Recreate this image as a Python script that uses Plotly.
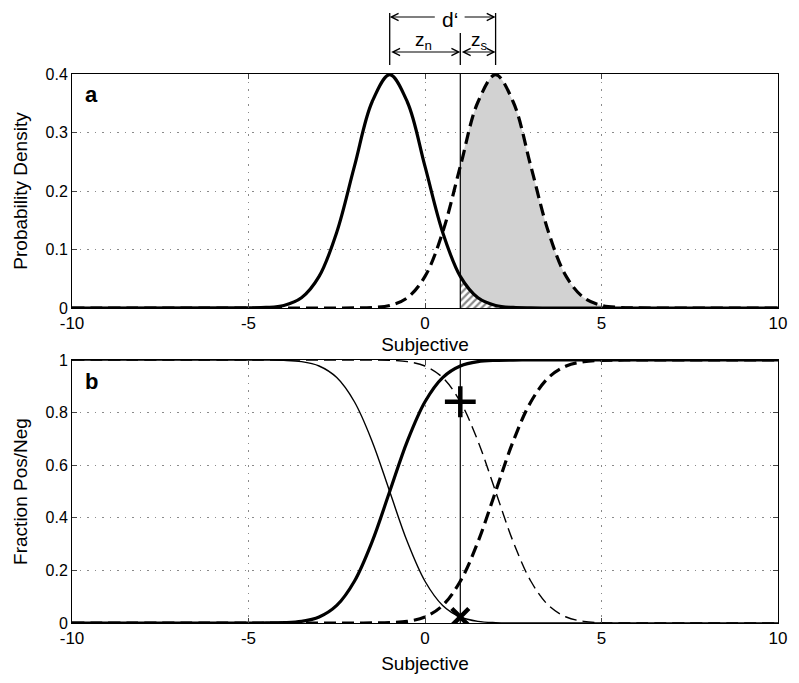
import plotly.graph_objects as go

# ---- data ----
x_vals = [-10, -5, -4.5, -4, -3.5, -3, -2.5, -2, -1.5, -1, -0.5, 0, 0.5, 1,
          1.5, 2, 2.5, 3, 3.5, 4, 4.5, 5, 5.5, 6, 10]
noise_pdf = [0, 0.0001, 0.0009, 0.0044, 0.0175, 0.054, 0.1295, 0.242, 0.3521, 0.3989,
             0.3521, 0.242, 0.1295, 0.054, 0.0175, 0.0044, 0.0009, 0.0001, 0, 0, 0, 0, 0, 0, 0]
signal_pdf = [0, 0, 0, 0, 0, 0, 0, 0.0001, 0.0009, 0.0044, 0.0175, 0.054, 0.1295, 0.242,
              0.3521, 0.3989, 0.3521, 0.242, 0.1295, 0.054, 0.0175, 0.0044, 0.0009, 0.0001, 0]
noise_cdf = [0, 0, 0.0002, 0.0013, 0.0062, 0.0228, 0.0668, 0.1587, 0.3085, 0.5, 0.6915,
             0.8413, 0.9332, 0.9772, 0.9938, 0.9987, 0.9998, 1, 1, 1, 1, 1, 1, 1, 1]
noise_surv = [1, 1, 0.9998, 0.9987, 0.9938, 0.9772, 0.9332, 0.8413, 0.6915, 0.5, 0.3085,
              0.1587, 0.0668, 0.0228, 0.0062, 0.0013, 0.0002, 0, 0, 0, 0, 0, 0, 0, 0]
signal_cdf = [0, 0, 0, 0, 0, 0, 0, 0, 0.0002, 0.0013, 0.0062, 0.0228, 0.0668, 0.1587,
              0.3085, 0.5, 0.6915, 0.8413, 0.9332, 0.9772, 0.9938, 0.9987, 0.9998, 1, 1]
signal_surv = [1, 1, 1, 1, 1, 1, 1, 1, 0.9998, 0.9987, 0.9938, 0.9772, 0.9332, 0.8413,
               0.6915, 0.5, 0.3085, 0.1587, 0.0668, 0.0228, 0.0062, 0.0013, 0.0002, 0, 0]
criterion = 1
noise_mean = -1
signal_mean = 2
hit_rate = 0.8413
false_alarm = 0.0228

x_ticks = [-10, -5, 0, 5, 10]
x_labels = ["-10", "-5", "0", "5", "10"]
y1_ticks = [0, 0.1, 0.2, 0.3, 0.4]
y1_labels = ["0", "0.1", "0.2", "0.3", "0.4"]
y2_ticks = [0, 0.2, 0.4, 0.6, 0.8, 1]
y2_labels = ["0", "0.2", "0.4", "0.6", "0.8", "1"]

FONT = "Liberation Sans, Arial, sans-serif"
THICK = 3.2
THIN = 1.4
DASH = "12px,6px"

idx = [i for i, xv in enumerate(x_vals) if xv >= criterion]
x_right = [x_vals[i] for i in idx]

fig = go.Figure()

fig.add_trace(go.Scatter(x=x_right, y=[signal_pdf[i] for i in idx], mode="lines",
                         line=dict(width=0, shape="spline"), fill="tozeroy",
                         fillcolor="#d2d2d2", xaxis="x", yaxis="y", hoverinfo="skip"))
fig.add_trace(go.Scatter(x=x_right, y=[noise_pdf[i] for i in idx], mode="lines",
                         line=dict(width=0, shape="spline"), fill="tozeroy",
                         fillpattern=dict(shape="/", fgcolor="#111", bgcolor="white",
                                          size=5, solidity=0.45),
                         xaxis="x", yaxis="y", hoverinfo="skip"))
fig.add_trace(go.Scatter(x=x_vals, y=noise_pdf, mode="lines",
                         line=dict(color="black", width=THICK, shape="spline"),
                         xaxis="x", yaxis="y"))
fig.add_trace(go.Scatter(x=x_vals, y=signal_pdf, mode="lines",
                         line=dict(color="black", width=THICK, dash=DASH, shape="spline"),
                         xaxis="x", yaxis="y"))

fig.add_trace(go.Scatter(x=x_vals, y=noise_surv, mode="lines",
                         line=dict(color="black", width=THIN, shape="spline"),
                         xaxis="x2", yaxis="y2"))
fig.add_trace(go.Scatter(x=x_vals, y=signal_surv, mode="lines",
                         line=dict(color="black", width=THIN, dash=DASH, shape="spline"),
                         xaxis="x2", yaxis="y2"))
fig.add_trace(go.Scatter(x=x_vals, y=signal_cdf, mode="lines",
                         line=dict(color="black", width=THICK, dash=DASH, shape="spline"),
                         xaxis="x2", yaxis="y2"))
fig.add_trace(go.Scatter(x=x_vals, y=noise_cdf, mode="lines",
                         line=dict(color="black", width=THICK, shape="spline"),
                         xaxis="x2", yaxis="y2"))
fig.add_trace(go.Scatter(x=[criterion], y=[hit_rate], mode="markers",
                         marker=dict(symbol="cross-thin", size=22,
                                     line=dict(color="black", width=4.5)),
                         xaxis="x2", yaxis="y2"))
fig.add_trace(go.Scatter(x=[criterion], y=[false_alarm], mode="markers",
                         marker=dict(symbol="x-thin", size=17,
                                     line=dict(color="black", width=4.5)),
                         xaxis="x2", yaxis="y2"))

# page body has an 8px margin: figure sits at (8, 8) in the window
OFF = 8
W, H = 799 - OFF, 683 - OFF
PL, PR, PT, PB = 70, 781, 74, 623      # plot-area edges in window pixels
L, R, T, B = PL - OFF, (799 - PR), PT - OFF, 683 - PB
ph = H - T - B

def py(pix):
    return (PB - pix) / ph

top_dom = [py(308), 1.0]
bot_dom = [0.0, py(360)]

axis_common = dict(range=[-10, 10], tickvals=x_ticks, ticktext=x_labels, ticks="inside",
                   ticklen=5, showline=True, linecolor="black", linewidth=1, mirror="ticks",
                   showgrid=True, gridcolor="#8a8a8a", griddash="1.5px,6px", gridwidth=1,
                   zeroline=False, tickfont=dict(size=17, color="black", family=FONT),
                   title=dict(text="Subjective", font=dict(size=19, color="black", family=FONT),
                              standoff=5))
yaxis_common = dict(ticks="inside", ticklen=5, showline=True, linecolor="black", linewidth=1,
                    mirror="ticks", showgrid=True, gridcolor="#8a8a8a", griddash="1.5px,6px",
                    gridwidth=1, zeroline=False,
                    tickfont=dict(size=16, color="black", family=FONT))

fig.update_layout(
    width=W, height=H,
    margin=dict(l=L, r=R, t=T, b=B),
    paper_bgcolor="white", plot_bgcolor="white",
    showlegend=False,
    font=dict(family=FONT, color="black"),
    xaxis=dict(axis_common, domain=[0, 1], anchor="y"),
    yaxis=dict(yaxis_common, domain=top_dom, anchor="x", range=[0, 0.4],
               tickvals=y1_ticks, ticktext=y1_labels,
               title=dict(text="Probability Density", font=dict(size=19, family=FONT),
                          standoff=12)),
    xaxis2=dict(axis_common, domain=[0, 1], anchor="y2",
                title=dict(text="Subjective", font=dict(size=19, color="black", family=FONT),
                           standoff=9)),
    yaxis2=dict(yaxis_common, domain=bot_dom, anchor="x2", range=[0, 1],
                tickvals=y2_ticks, ticktext=y2_labels,
                title=dict(text="Fraction Pos/Neg", font=dict(size=19, family=FONT),
                           standoff=12)),
)

fig.add_shape(type="line", xref="x", yref="y domain", x0=criterion, x1=criterion, y0=0, y1=1,
              line=dict(color="black", width=1.2))
fig.add_shape(type="line", xref="x2", yref="y2 domain", x0=criterion, x1=criterion, y0=0, y1=1,
              line=dict(color="black", width=1.2))

for xv, y0p, y1p in [(noise_mean, 65, 13), (signal_mean, 65, 13), (criterion, 65, 33)]:
    fig.add_shape(type="line", xref="x", yref="paper", x0=xv, x1=xv, y0=py(y0p), y1=py(y1p),
                  line=dict(color="black", width=1.3))

def arrow(x_tail, x_head, ypix, both=False):
    fig.add_annotation(x=x_head, y=py(ypix), xref="x", yref="paper", ax=x_tail, ay=0,
                       axref="x", ayref="pixel", text="", showarrow=True,
                       arrowhead=5, startarrowhead=5,
                       arrowside="end+start" if both else "end",
                       arrowsize=1.3, startarrowsize=1.3, arrowwidth=1.1, arrowcolor="black",
                       standoff=0, startstandoff=0)

# d' arrow split around its label
arrow(0.32, noise_mean, 17)
arrow(1.08, signal_mean, 17)
arrow(noise_mean, criterion, 52, both=True)
arrow(criterion, signal_mean, 52, both=True)

fig.add_annotation(x=0.7, y=py(20), xref="x", yref="paper", text="d‘", showarrow=False,
                   font=dict(size=21, family=FONT, color="black"),
                   xanchor="center", yanchor="middle", borderpad=0)
fig.add_annotation(x=-0.05, y=py(41), xref="x", yref="paper", text="z<sub>n</sub>",
                   showarrow=False, font=dict(size=19, family=FONT, color="black"),
                   xanchor="center", yanchor="middle")
fig.add_annotation(x=1.55, y=py(41), xref="x", yref="paper", text="z<sub>s</sub>",
                   showarrow=False, font=dict(size=19, family=FONT, color="black"),
                   xanchor="center", yanchor="middle")

fig.add_annotation(x=0.015, y=0.975, xref="x domain", yref="y domain", text="<b>a</b>",
                   showarrow=False, font=dict(size=22, family=FONT, color="black"),
                   xanchor="left", yanchor="top")
fig.add_annotation(x=0.015, y=0.975, xref="x2 domain", yref="y2 domain", text="<b>b</b>",
                   showarrow=False, font=dict(size=22, family=FONT, color="black"),
                   xanchor="left", yanchor="top")

fig.write_html("out.html")
